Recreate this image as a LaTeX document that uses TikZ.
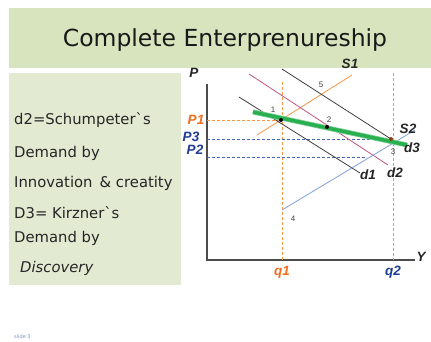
\documentclass[tikz,border=0pt]{standalone}
\usepackage{fontspec}
\setmainfont{DejaVu Sans}
\newfontfamily\ltf{DejaVu Sans}[Ligatures=ResetAll]
\newfontfamily\lab{Liberation Sans}
\begin{document}
\begin{tikzpicture}[x=1pt,y=-1pt,
  glab/.style={font=\lab\bfseries\itshape\fontsize{13.5}{14}\selectfont, inner sep=0pt},
  num/.style={font=\lab\fontsize{8}{9}\selectfont, text=black!75, inner sep=0pt},
  ltxt/.style={font=\ltf\fontsize{14.8}{16}\selectfont, anchor=base west, inner sep=0pt, text=black!85},
  dot/.style={circle, fill=black, inner sep=0pt, minimum size=4pt},
  dsh/.style={dashed, dash pattern=on 3pt off 2pt, line width=0.8pt}]
\definecolor{band}{RGB}{215,228,189}
\definecolor{lbox}{RGB}{226,234,210}
\definecolor{org}{RGB}{247,150,70}
\definecolor{orgt}{RGB}{240,110,30}
\definecolor{dblue}{RGB}{31,60,150}
\definecolor{mblue}{RGB}{70,100,180}
\definecolor{lblue}{RGB}{130,160,215}
\definecolor{pink}{RGB}{195,85,130}
\definecolor{grn}{RGB}{40,175,80}
\useasboundingbox (0,0) rectangle (431,341);
\fill[white] (0,0) rectangle (431,341);
% title band
\fill[band] (9,8) rectangle (431,68);
\node[font=\fontsize{23.5}{26}\selectfont, text=black!90] (title) at (225,40) {Complete Enterprenureship};
% left box
\fill[lbox] (9,73) rectangle (181,285);
\node[ltxt] (t1) at (14,124) {d2=Schumpeter`s};
\node[ltxt] (t2) at (14,157) {Demand by};
\node[ltxt] (t3) at (14,187) {Innovation \,\& creatity};
\node[ltxt] (t4) at (14,218) {D3= Kirzner`s};
\node[ltxt] (t5) at (14,242) {Demand by};
\node[ltxt, font=\ltf\itshape\fontsize{14.8}{16}\selectfont] (t6) at (20,272) {Discovery};
% axes
\coordinate (O) at (207,260);
\coordinate (Ptop) at (207,84);
\coordinate (Yend) at (415,260);
\draw[black!70, line width=1.2pt] (Ptop) -- (O) -- (Yend);
\node[glab, text=black!85] (Plab) at (194,73) {P};
\node[glab, text=black!85] (Ylab) at (421,257) {Y};
% points
\coordinate (p1) at (281,120);
\coordinate (p2) at (327,127);
\coordinate (p3) at (391,139);
\coordinate (p4) at (282,210);
% vertical dashed
\coordinate (q1t) at (282,82);
\coordinate (q1b) at (282,260);
\coordinate (q2t) at (393,73);
\coordinate (q2b) at (393,260);
\draw[org, dsh] (q1t) -- (q1b);
\draw[org, dsh] (q2t) -- (q2b);
% horizontal dashed
\coordinate (P1a) at (207,120);
\coordinate (P3a) at (207,139);
\coordinate (P2a) at (207,157);
\coordinate (P2b) at (367,157);
\draw[org, dsh] (P1a) -- (p1);
\draw[mblue, dsh] (P3a) -- (p3);
\draw[mblue, dsh] (P2a) -- (P2b);
% curves
\coordinate (s1a) at (257,135);
\coordinate (s1b) at (352,75);
\draw[org, line width=0.8pt] (s1a) -- (s1b);
\coordinate (d2a) at (249,74);
\coordinate (d2b) at (388,165);
\draw[pink, line width=0.8pt] (d2a) -- (d2b);
\coordinate (d1a) at (239,97);
\coordinate (d1b) at (360,173);
\draw[black!75, line width=0.8pt] (d1a) -- (d1b);
\coordinate (d5a) at (282,69);
\draw[black!75, line width=0.8pt] (d5a) -- (p3);
\coordinate (s2b) at (415,130);
\draw[lblue, line width=0.8pt] (p4) -- (s2b);
\coordinate (d3a) at (253,112);
\coordinate (d3b) at (407,145);
\draw[grn!60, line width=5pt] (d3a) -- (d3b);
\draw[grn, line width=3.5pt] (d3a) -- (d3b);
\node[dot] (n1) at (p1) {};
\node[dot] (n2) at (p2) {};
\node[dot, fill=orgt!60!black] (n3) at (p3) {};
% labels
\node[glab, text=orgt] (P1l) at (196,120) {P1};
\node[glab, text=dblue] (P3l) at (191,137) {P3};
\node[glab, text=dblue] (P2l) at (195,150) {P2};
\node[glab, text=orgt] (q1l) at (282,272) {q1};
\node[glab, text=dblue] (q2l) at (393,272) {q2};
\node[glab, text=black!85] (S1l) at (350,64) {S1};
\node[glab, text=black!85] (S2l) at (408,129) {S2};
\node[glab, text=black!85] (d1l) at (368,175) {d1};
\node[glab, text=black!85] (d2l) at (395,173) {d2};
\node[glab, text=black!85] (d3l) at (412,148) {d3};
\node[num] (l1) at (273,110) {1};
\node[num] (l2) at (329,120) {2};
\node[num] (l3) at (393,152) {3};
\node[num] (l4) at (293,219) {4};
\node[num] (l5) at (321,85) {5};
\node[font=\fontsize{5}{6}\selectfont, text=mblue!70, anchor=west, inner sep=0pt] (slide) at (14,337) {slide 3};
\end{tikzpicture}
\end{document}
